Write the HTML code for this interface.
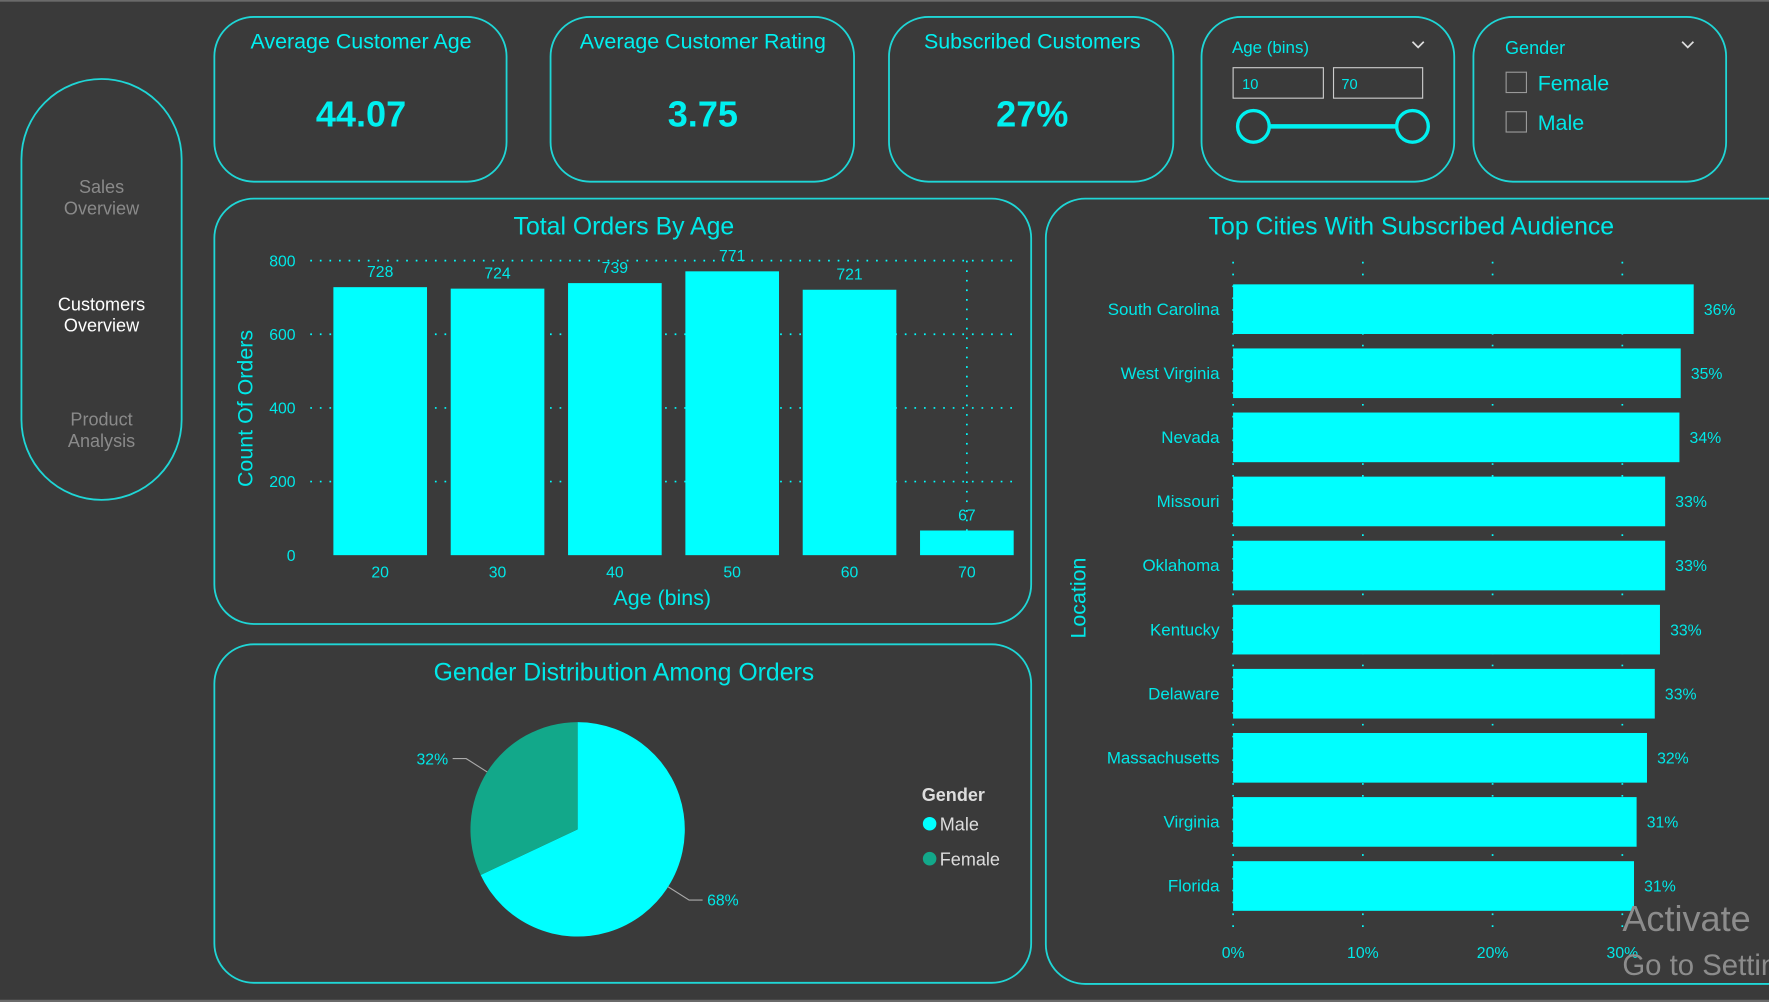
<!DOCTYPE html>
<html><head><meta charset="utf-8"><style>
html,body{margin:0;padding:0;background:#3a3a3a;overflow:hidden}
svg{display:block;font-family:"Liberation Sans",Arial,sans-serif}
</style></head><body>
<svg id="s" width="1769" height="1002" viewBox="0 0 1568 888" preserveAspectRatio="none">
<rect x="0" y="0" width="1568" height="888" fill="#3a3a3a"/>
<rect x="0" y="0" width="1568" height="1.5" fill="#6a6a6a"/>
<rect x="0" y="886" width="1568" height="2" fill="#6a6a6a"/>
<g fill="none" stroke="#1fd6d6" stroke-width="1.6">
<rect x="19" y="70" width="142" height="373" rx="71"/>
<rect x="190" y="15" width="259" height="146" rx="35"/>
<rect x="488" y="15" width="269" height="146" rx="35"/>
<rect x="788" y="15" width="252" height="146" rx="35"/>
<rect x="1065" y="15" width="224" height="146" rx="35"/>
<rect x="1306" y="15" width="224" height="146" rx="35"/>
<rect x="190" y="176" width="724" height="377" rx="35"/>
<rect x="190" y="571" width="724" height="300" rx="35"/>
<rect x="927" y="176" width="680" height="696" rx="35"/>
</g>
<g font-size="16" text-anchor="middle">
<text x="90" y="171" fill="#8a8a8a"><tspan x="90">Sales</tspan><tspan x="90" dy="19">Overview</tspan></text>
<text x="90" y="275" fill="#ffffff"><tspan x="90">Customers</tspan><tspan x="90" dy="19">Overview</tspan></text>
<text x="90" y="377" fill="#8a8a8a"><tspan x="90">Product</tspan><tspan x="90" dy="19">Analysis</tspan></text>
</g>
<g fill="#00f0f0" text-anchor="middle">
<text x="320" y="43" font-size="19">Average Customer Age</text>
<text x="320" y="112" font-size="32" font-weight="bold">44.07</text>
<text x="623" y="43" font-size="19">Average Customer Rating</text>
<text x="623" y="112" font-size="32" font-weight="bold">3.75</text>
<text x="915" y="43" font-size="19">Subscribed Customers</text>
<text x="915" y="112" font-size="32" font-weight="bold">27%</text>
</g>
<g fill="#00e8e8">
<text x="1092" y="47" font-size="15">Age (bins)</text>
<path d="M1252 37 l5 5 l5 -5" fill="none" stroke="#ddd" stroke-width="1.5"/>
<rect x="1093" y="60" width="80" height="27" fill="none" stroke="#ccc"/>
<rect x="1182" y="60" width="79" height="27" fill="none" stroke="#ccc"/>
<text x="1101" y="79" font-size="13">10</text>
<text x="1189" y="79" font-size="13">70</text>
<line x1="1111" y1="112" x2="1252" y2="112" stroke="#00f0f0" stroke-width="4"/>
<circle cx="1111" cy="112" r="14" fill="#3a3a3a" stroke="#00f0f0" stroke-width="3"/>
<circle cx="1252" cy="112" r="14" fill="#3a3a3a" stroke="#00f0f0" stroke-width="3"/>
<text x="1334" y="48" font-size="16">Gender</text>
<path d="M1491 37 l5 5 l5 -5" fill="none" stroke="#ddd" stroke-width="1.5"/>
<rect x="1335" y="64" width="18" height="18" fill="none" stroke="#999"/>
<rect x="1335" y="99" width="18" height="18" fill="none" stroke="#999"/>
<text x="1363" y="80" font-size="19">Female</text>
<text x="1363" y="115" font-size="19">Male</text>
</g>
<g id="orders"></g>
<g id="pie"></g>
<g id="cities"></g>
<text x="1438" y="825" font-size="32" fill="#8c8c8c">Activate</text>
<text x="1438" y="864" font-size="26" fill="#8c8c8c">Go to Settin</text>
</svg>
<script>
const ageBins=["20","30","40","50","60","70"];
const orderCounts=[728,724,739,771,721,67];
const yTicks=[0,200,400,600,800];
const genders=["Male","Female"];
const genderShares=[68,32];
const cities=["South Carolina","West Virginia","Nevada","Missouri","Oklahoma","Kentucky","Delaware","Massachusetts","Virginia","Florida"];
const cityShares=[35.5,34.5,34.4,33.3,33.3,32.9,32.5,31.9,31.1,30.9];
const xTicks=[0,10,20,30];
const NS="http://www.w3.org/2000/svg";
const C="#00ffff",T="#00e8e8";
function mk(p,tag,a,txt){const e=document.createElementNS(NS,tag);for(const k in a)e.setAttribute(k,a[k]);if(txt!=null)e.textContent=txt;p.appendChild(e);return e;}
// orders chart
const g=document.getElementById('orders');
const y=v=>492-v*(261/800);
const bx=i=>337+i*104;
mk(g,'text',{x:553,y:208,'font-size':22,fill:T,'text-anchor':'middle'},'Total Orders By Age');
yTicks.forEach(t=>{
 if(t>0){const l=mk(g,'line',{x1:275,x2:900,y1:y(t),y2:y(t),stroke:C,'stroke-dasharray':'1.5 7','stroke-width':1.5});}
 const tx=mk(g,'text',{x:262,y:y(t)+5,'font-size':14,fill:T,'text-anchor':'end'},t);
 
 
});
mk(g,'line',{x1:857,x2:857,y1:231,y2:492,stroke:C,'stroke-dasharray':'1.5 7','stroke-width':1.5});
orderCounts.forEach((v,i)=>{
 const r=mk(g,'rect',{x:bx(i)-41.5,y:y(v),width:83,height:492-y(v),fill:C});
 
 
 mk(g,'text',{x:bx(i),y:y(v)-9,'font-size':14,fill:T,'text-anchor':'middle'},v);
 mk(g,'text',{x:bx(i),y:512,'font-size':14,fill:T,'text-anchor':'middle'},ageBins[i]);
});
mk(g,'text',{x:587,y:536,'font-size':19,fill:T,'text-anchor':'middle'},'Age (bins)');
mk(g,'text',{x:0,y:0,'font-size':19,fill:T,'text-anchor':'middle',transform:'translate(224,362) rotate(-90)'},'Count Of Orders');
// pie
const p=document.getElementById('pie');
mk(p,'text',{x:553,y:603,'font-size':22,fill:T,'text-anchor':'middle'},'Gender Distribution Among Orders');
const cx=512,cy=735,R=95,cols=[C,"#12a88a"];
let a0=0;
genderShares.forEach((s,i)=>{
 const a1=a0+s/100*2*Math.PI;
 const x0=cx+R*Math.sin(a0),y0=cy-R*Math.cos(a0),x1=cx+R*Math.sin(a1),y1=cy-R*Math.cos(a1);
 const path=mk(p,'path',{d:`M${cx} ${cy} L${x0} ${y0} A${R} ${R} 0 ${s>50?1:0} 1 ${x1} ${y1}Z`,fill:cols[i]});
 
 
 const am=(a0+a1)/2,lx=cx+(R+22)*Math.sin(am),ly=cy-(R+22)*Math.cos(am);
 const right=Math.sin(am)>0;
 mk(p,'polyline',{points:`${cx+R*Math.sin(am)},${cy-R*Math.cos(am)} ${lx},${ly} ${lx+(right?12:-12)},${ly}`,fill:'none',stroke:'#aaa','stroke-width':1});
 mk(p,'text',{x:lx+(right?16:-16),y:ly+5,'font-size':14,fill:T,'text-anchor':right?'start':'end'},s+'%');
 a0=a1;
});
mk(p,'text',{x:817,y:710,'font-size':16,'font-weight':'bold',fill:'#ddd'},'Gender');
genders.forEach((n,i)=>{
 mk(p,'circle',{cx:824,cy:730+i*31,r:6,fill:cols[i]});
 mk(p,'text',{x:833,y:736+i*31,'font-size':16,fill:'#ddd'},n);
});
// cities
const c=document.getElementById('cities');
const xs=v=>1093+v*11.5;
mk(c,'text',{x:1251,y:208,'font-size':22,fill:T,'text-anchor':'middle'},'Top Cities With Subscribed Audience');
xTicks.forEach(t=>{
 mk(c,'line',{x1:xs(t),x2:xs(t),y1:232,y2:830,stroke:C,'stroke-dasharray':'1.5 9','stroke-width':1.5});
 mk(c,'text',{x:xs(t),y:849,'font-size':14,fill:T,'text-anchor':'middle'},t+'%');
});
cities.forEach((n,i)=>{
 const yc=274+i*56.8;
 const r=mk(c,'rect',{x:1093,y:yc-22,width:xs(cityShares[i])-1093,height:44,fill:C});
 
 
 mk(c,'text',{x:1081,y:yc+5,'font-size':15,fill:T,'text-anchor':'end'},n);
 mk(c,'text',{x:xs(cityShares[i])+9,y:yc+5,'font-size':14,fill:T},Math.round(cityShares[i])+'%');
});
mk(c,'text',{x:0,y:0,'font-size':19,fill:T,'text-anchor':'middle',transform:'translate(962,530) rotate(-90)'},'Location');
</script>
</body></html>
